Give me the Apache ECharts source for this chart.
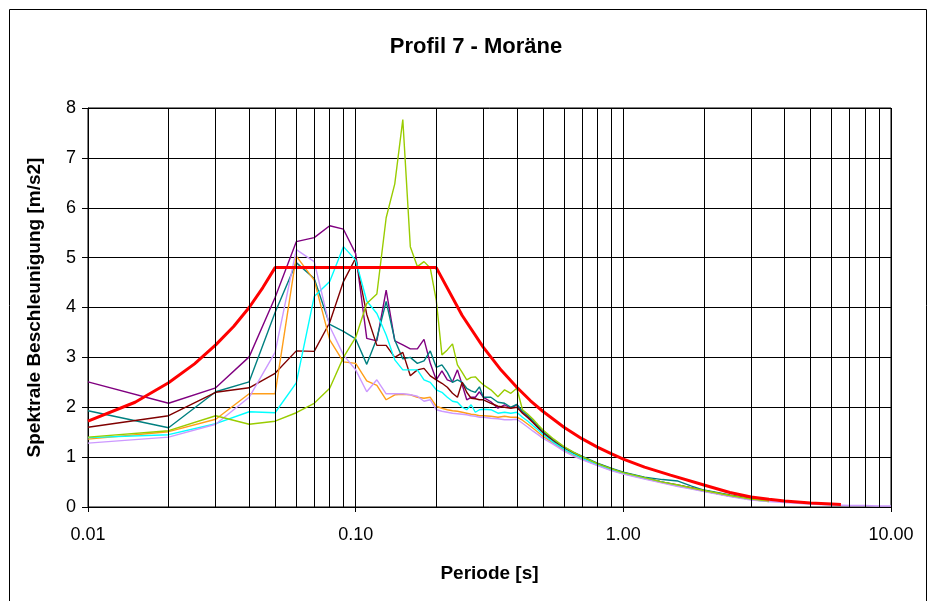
<!DOCTYPE html>
<html>
<head>
<meta charset="utf-8">
<title>Profil 7 - Moräne</title>
<script src="https://cdn.jsdelivr.net/npm/echarts@6/dist/echarts.min.js"></script>
<style>
  html, body { margin: 0; padding: 0; background: #fff; }
  #chart { width: 931px; height: 601px; }
</style>
</head>
<body>
<div id="chart"></div>
<script>
// Periods [s] shared by the measured response spectra
const periods = [
  0.01, 0.02, 0.03, 0.04, 0.05, 0.06, 0.07, 0.08, 0.09, 0.10,
  0.11, 0.12, 0.13, 0.14, 0.15, 0.16, 0.17, 0.18, 0.19, 0.20,
  0.21, 0.22, 0.23, 0.24, 0.25, 0.26, 0.27, 0.28, 0.29, 0.30,
  0.32, 0.34, 0.36, 0.38, 0.40, 0.42, 0.44, 0.46, 0.48, 0.50,
  0.55, 0.60, 0.65, 0.70, 0.80, 0.90, 1.00, 1.20, 1.40, 1.60,
  1.80, 2.00, 2.50, 3.00, 3.50, 4.00, 5.00, 6.00, 7.00, 8.00,
  9.00, 10.00
];

// Spectral acceleration [m/s2], one array per record (null = no value)
const sPurple = [
  2.51, 2.08, 2.39, 3.01, 4.20, 5.32, 5.40, 5.64, 5.57, 5.08,
  3.38, 3.33, 4.35, 3.33, 3.25, 3.17, 3.17, 3.36, 2.88, 2.55,
  2.73, 2.55, 2.51, 2.75, 2.45, 2.15, 2.20, 2.20, 2.31, 2.20,
  2.11, 1.98, 2.05, 1.98, 2.05, 1.90, 1.80, 1.70, 1.60, 1.50,
  1.32, 1.18, 1.08, 1.00, 0.87, 0.77, 0.69, 0.59, 0.50, 0.44,
  0.38, 0.33, 0.23, 0.16, 0.12, null, null, null, null, null,
  null, null
];
const sTeal = [
  1.93, 1.59, 2.31, 2.51, 3.90, 4.90, 4.58, 3.66, 3.52, 3.37,
  2.86, 3.38, 4.12, 3.35, 2.97, 3.00, 2.88, 2.93, 3.13, 2.80,
  2.85, 2.70, 2.50, 2.55, 2.50, 2.38, 2.33, 2.30, 2.41, 2.20,
  2.20, 2.10, 2.08, 2.00, 2.06, 1.92, 1.83, 1.73, 1.62, 1.52,
  1.34, 1.20, 1.10, 1.02, 0.88, 0.78, 0.70, 0.60, 0.55, 0.52,
  0.42, 0.34, 0.24, 0.17, 0.12, null, null, null, null, null,
  null, null
];
const sDarkRed = [
  1.60, 1.83, 2.30, 2.39, 2.68, 3.13, 3.12, 3.70, 4.52, 4.99,
  3.86, 3.24, 3.24, 3.00, 3.10, 2.63, 2.75, 2.78, 2.63, 2.55,
  2.48, 2.40, 2.28, 2.20, 2.50, 2.30, 2.18, 2.17, 2.15, 2.15,
  2.08, 2.02, 2.00, 1.98, 2.00, 1.88, 1.79, 1.69, 1.59, 1.49,
  1.31, 1.17, 1.07, 0.99, 0.86, 0.76, 0.68, 0.58, 0.50, 0.43,
  0.38, 0.32, 0.22, 0.16, 0.12, null, null, null, null, null,
  null, null
];
const sOrange = [
  1.36, 1.51, 1.76, 2.27, 2.27, 5.03, 4.55, 3.35, 2.91, 2.88,
  2.53, 2.44, 2.15, 2.25, 2.26, 2.25, 2.20, 2.18, 2.20, 2.02,
  1.98, 1.95, 1.93, 1.92, 1.90, 1.88, 1.86, 1.85, 1.83, 1.83,
  1.82, 1.80, 1.82, 1.80, 1.80, 1.74, 1.66, 1.58, 1.50, 1.42,
  1.27, 1.14, 1.04, 0.96, 0.84, 0.74, 0.67, 0.57, 0.49, 0.42,
  0.37, 0.32, 0.22, 0.15, 0.11, null, null, null, null, null,
  null, null
];
const sCyan = [
  1.39, 1.45, 1.67, 1.91, 1.89, 2.49, 4.22, 4.52, 5.22, 4.95,
  4.13, 3.88, 3.45, 2.95, 2.75, 2.75, 2.75, 2.55, 2.50, 2.35,
  2.30, 2.20, 2.12, 2.10, 2.00, 1.95, 2.05, 1.90, 1.95, 1.96,
  1.95, 1.88, 1.90, 1.88, 1.90, 1.80, 1.72, 1.63, 1.55, 1.46,
  1.29, 1.16, 1.06, 0.98, 0.85, 0.75, 0.68, 0.58, 0.50, 0.43,
  0.37, 0.32, 0.22, 0.15, 0.11, null, null, null, null, null,
  null, null
];
const sLavender = [
  1.28, 1.40, 1.66, 2.20, 3.10, 5.16, 4.92, 3.62, 3.05, 2.75,
  2.31, 2.55, 2.27, 2.27, 2.27, 2.25, 2.22, 2.12, 2.15, 1.95,
  1.92, 1.90, 1.88, 1.87, 1.86, 1.85, 1.83, 1.82, 1.80, 1.80,
  1.78, 1.77, 1.75, 1.75, 1.76, 1.68, 1.60, 1.52, 1.45, 1.38,
  1.25, 1.12, 1.02, 0.95, 0.83, 0.73, 0.66, 0.56, 0.48, 0.41,
  0.36, 0.31, 0.21, 0.14, 0.11, 0.09, 0.06, 0.04, 0.03, 0.03,
  0.02, 0.02
];
const sYellowGreen = [
  1.40, 1.53, 1.83, 1.66, 1.72, 1.89, 2.08, 2.38, 3.00, 3.40,
  4.08, 4.27, 5.80, 6.48, 7.77, 5.22, 4.82, 4.92, 4.79, 4.15,
  3.05, 3.15, 3.27, 2.85, 2.70, 2.55, 2.60, 2.61, 2.52, 2.45,
  2.35, 2.21, 2.35, 2.28, 2.38, 1.95, 1.86, 1.76, 1.65, 1.55,
  1.36, 1.21, 1.10, 1.01, 0.87, 0.77, 0.69, 0.59, 0.50, 0.44,
  0.38, 0.33, 0.23, 0.16, 0.12, null, null, null, null, null,
  null, null
];

// Design spectrum (periods and values)
const designPeriods = [
  0.01, 0.015, 0.02, 0.025, 0.03, 0.035, 0.04, 0.045, 0.05, 0.20,
  0.25, 0.30, 0.35, 0.40, 0.45, 0.50, 0.60, 0.70, 0.80, 0.90,
  1.00, 1.20, 1.50, 2.00, 2.50, 3.00, 3.50, 4.00, 5.00, 6.00, 6.50
];
const designValues = [
  1.72, 2.10, 2.49, 2.87, 3.25, 3.62, 4.00, 4.40, 4.80, 4.80,
  3.84, 3.20, 2.74, 2.40, 2.13, 1.92, 1.60, 1.37, 1.20, 1.07,
  0.96, 0.80, 0.64, 0.44, 0.29, 0.20, 0.155, 0.12, 0.08, 0.06, 0.05
];

// Intermediate log-decade gridlines (2..9 of each decade)
const minorGridPeriods = [
  0.02, 0.03, 0.04, 0.05, 0.06, 0.07, 0.08, 0.09,
  0.2, 0.3, 0.4, 0.5, 0.6, 0.7, 0.8, 0.9,
  2, 3, 4, 5, 6, 7, 8, 9
];

const FONT = "'Liberation Sans', Arial, sans-serif";

function pairs(xs, ys) {
  const out = [];
  for (let i = 0; i < xs.length; i++) {
    if (ys[i] !== null && ys[i] !== undefined) out.push([xs[i], ys[i]]);
  }
  return out;
}

function record(name, values, color) {
  return {
    name: name,
    type: 'line',
    data: pairs(periods, values),
    showSymbol: false,
    symbol: 'none',
    lineStyle: { color: color, width: 1.4 },
    itemStyle: { color: color },
    z: 3,
    silent: true
  };
}

const chart = echarts.init(document.getElementById('chart'), null, { renderer: 'canvas' });

chart.setOption({
  animation: false,
  backgroundColor: '#ffffff',
  title: {
    text: 'Profil 7 - Moräne',
    left: 471,
    top: 31,
    textAlign: 'center',
    textStyle: { fontFamily: FONT, fontSize: 22, fontWeight: 'bold', color: '#000' }
  },
  graphic: [{
    type: 'rect',
    shape: { x: 9.5, y: 9.5, width: 917, height: 620 },
    style: { fill: null, stroke: '#000', lineWidth: 1 },
    silent: true,
    z: -1
  }],
  grid: {
    left: 88, right: 40, top: 108, bottom: 94,
    show: true,
    borderColor: '#000',
    borderWidth: 1
  },
  xAxis: {
    type: 'log',
    logBase: 10,
    min: 0.01,
    max: 10,
    name: 'Periode [s]',
    nameLocation: 'middle',
    nameGap: 57,
    nameTextStyle: { fontFamily: FONT, fontSize: 19, fontWeight: 'bold', color: '#000' },
    axisLine: { show: true, lineStyle: { color: '#000', width: 1 } },
    axisTick: { show: true, length: 5, inside: false, lineStyle: { color: '#000' } },
    axisLabel: {
      margin: 19,
      fontFamily: FONT, fontSize: 18, color: '#000',
      formatter: function (v) { return Number(v).toFixed(2); }
    },
    splitLine: { show: true, lineStyle: { color: '#000', width: 1 } },
    minorTick: { show: false },
    minorSplitLine: { show: false }
  },
  yAxis: {
    type: 'value',
    min: 0,
    max: 8,
    interval: 1,
    name: 'Spektrale Beschleunigung [m/s2]',
    nameLocation: 'middle',
    nameGap: 44,
    nameTextStyle: { fontFamily: FONT, fontSize: 19, fontWeight: 'bold', color: '#000' },
    axisLine: { show: true, lineStyle: { color: '#000', width: 1 } },
    axisTick: { show: true, length: 6, lineStyle: { color: '#000' } },
    axisLabel: { margin: 12, fontFamily: FONT, fontSize: 18, color: '#000' },
    splitLine: { show: true, lineStyle: { color: '#000', width: 1 } }
  },
  series: [
    {
      name: 'grid',
      type: 'line',
      data: [[0.01, null]],
      showSymbol: false,
      silent: true,
      z: 1,
      markLine: {
        silent: true,
        symbol: ['none', 'none'],
        label: { show: false },
        lineStyle: { color: '#000', width: 1, type: 'solid' },
        emphasis: { disabled: true },
        animation: false,
        data: minorGridPeriods.map(function (p) { return { xAxis: p }; })
      }
    },
    record('Record 1', sPurple, '#800080'),
    record('Record 2', sTeal, '#008080'),
    record('Record 3', sDarkRed, '#800000'),
    record('Record 4', sOrange, '#FF9E1A'),
    record('Record 5', sCyan, '#00FFFF'),
    record('Record 6', sLavender, '#CC99FF'),
    record('Record 7', sYellowGreen, '#99CC00'),
    {
      name: 'Bemessungsspektrum',
      type: 'line',
      data: pairs(designPeriods, designValues),
      showSymbol: false,
      symbol: 'none',
      lineStyle: { color: '#FF0000', width: 3 },
      itemStyle: { color: '#FF0000' },
      z: 4,
      silent: true
    }
  ]
});
</script>
</body>
</html>
